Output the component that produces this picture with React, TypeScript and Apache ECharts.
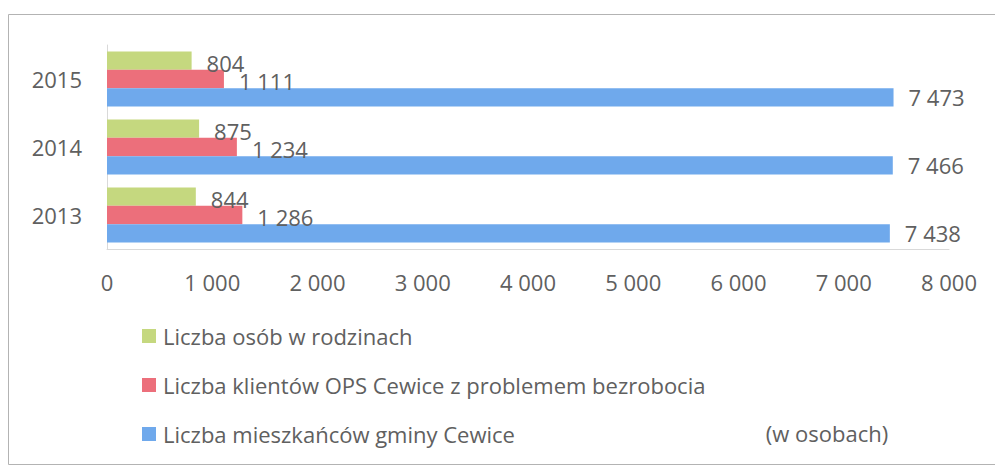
import React, { useEffect, useRef } from "react";
import * as echarts from "echarts";

const years = ["2013", "2014", "2015"];
const seriesNames = [
  "Liczba osób w rodzinach",
  "Liczba klientów OPS Cewice z problemem bezrobocia",
  "Liczba mieszkańców gminy Cewice",
];
const personsInFamilies = [844, 875, 804];
const opsClients = [1286, 1234, 1111];
const residents = [7438, 7466, 7473];
const xTicks = { min: 0, max: 8000, interval: 1000 };
const unitNote = "(w osobach)";

const FONT = "'Open Sans', 'Noto Sans', sans-serif";
const TEXT = "#606060";

const fmt = (v: number) =>
  String(Math.round(v)).replace(/\B(?=(\d{3})+(?!\d))/g, "\u00a0");

export default function App() {
  const ref = useRef<HTMLDivElement>(null);
  useEffect(() => {
    if (!ref.current) return;
    const chart = echarts.init(ref.current, undefined, { renderer: "svg" });
    const label = {
      show: true,
      position: "right" as const,
      distance: 15,
      color: TEXT,
      fontFamily: FONT,
      fontSize: 22,
      formatter: (p: any) => fmt(p.value),
    };
    chart.setOption({
      animation: false,
      backgroundColor: "#ffffff",
      textStyle: { fontFamily: FONT },
      grid: { left: 107, right: 46, top: 45, bottom: 217, containLabel: false },
      xAxis: {
        type: "value",
        min: xTicks.min,
        max: xTicks.max,
        interval: xTicks.interval,
        axisLine: { show: true, lineStyle: { color: "#d9d9d9" } },
        axisTick: { show: false },
        splitLine: { show: false },
        axisLabel: {
          color: TEXT,
          fontFamily: FONT,
          fontSize: 22,
          margin: 22,
          formatter: (v: number) => fmt(v),
        },
      },
      yAxis: {
        type: "category",
        data: years,
        axisLine: { show: true, lineStyle: { color: "#d9d9d9" } },
        axisTick: { show: false },
        axisLabel: { color: TEXT, fontFamily: FONT, fontSize: 22, margin: 25 },
      },
      legend: {
        orient: "vertical",
        left: 137,
        top: 320,
        itemWidth: 14,
        itemHeight: 14,
        itemGap: 27,
        icon: "rect",
        data: seriesNames,
        textStyle: {
          color: TEXT,
          fontFamily: FONT,
          fontSize: 22,
          lineHeight: 22,
          padding: [0, 0, 0, 2],
        },
      },
      graphic: [
        {
          type: "rect",
          shape: { x: 8.5, y: 14.5, width: 1000, height: 450 },
          style: { fill: "none", stroke: "#b3b3b3", lineWidth: 1 },
          silent: true,
        },
        {
          type: "text",
          x: 827,
          y: 433,
          style: {
            text: unitNote,
            fill: TEXT,
            font: `22px ${FONT}`,
            textAlign: "center",
            textVerticalAlign: "middle",
          },
        },
      ],
      series: [
        {
          name: seriesNames[0],
          type: "bar",
          data: personsInFamilies,
          itemStyle: { color: "#c5d87f" },
          barGap: "0%",
          barCategoryGap: "19%",
          label: { ...label, offset: [0, 2] },
        },
        {
          name: seriesNames[1],
          type: "bar",
          data: opsClients,
          itemStyle: { color: "#ec6f7b" },
          barGap: "0%",
          barCategoryGap: "19%",
          label: { ...label, offset: [0, 2] },
        },
        {
          name: seriesNames[2],
          type: "bar",
          data: residents,
          itemStyle: { color: "#6fa9ec" },
          barGap: "0%",
          barCategoryGap: "19%",
          label,
        },
      ],
    });
    return () => chart.dispose();
  }, []);
  return (
    <div
      ref={ref}
      style={{ position: "absolute", left: 0, top: 0, width: 995, height: 466 }}
    />
  );
}
